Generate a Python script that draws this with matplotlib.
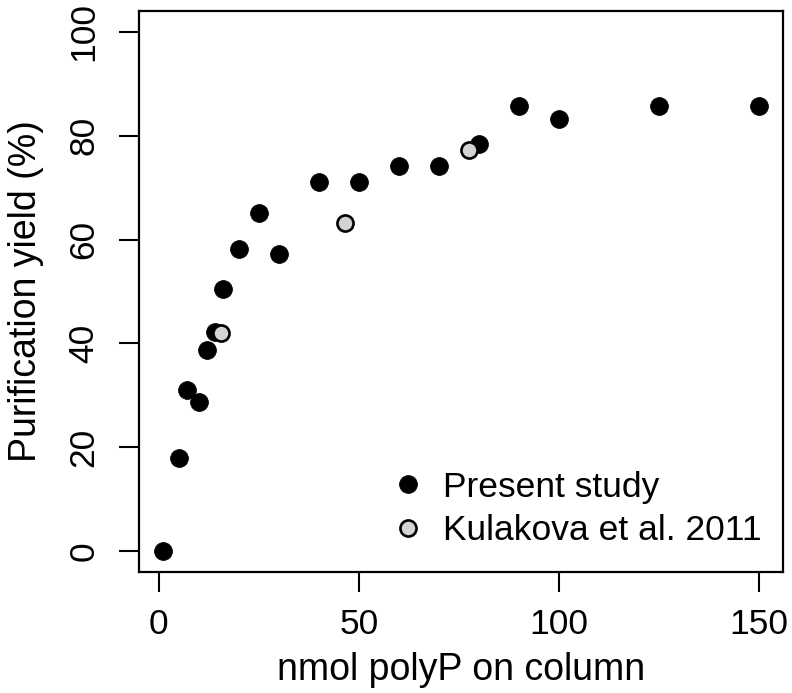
import matplotlib
matplotlib.use("Agg")
import matplotlib.pyplot as plt

# Present study
present_x = [1, 5, 7, 10, 12, 14, 16, 20, 25, 30, 40, 50, 60, 70, 80, 90, 100, 125, 150]
present_y = [0, 18, 31, 28.8, 38.8, 42.2, 50.4, 58.1, 65.2, 57.3, 71.1, 71.1, 74.1, 74.1, 78.4, 85.7, 83.2, 85.7, 85.7]

# Kulakova et al. 2011
kulakova_x = [15.5, 46.5, 77.5]
kulakova_y = [42.1, 63.1, 77.3]

x_ticks = [0, 50, 100, 150]
y_ticks = [0, 20, 40, 60, 80, 100]

plt.rcParams['font.family'] = ['Liberation Sans', 'DejaVu Sans']

fig = plt.figure(figsize=(7.92, 6.93), dpi=100)
ax = fig.add_axes([0.1755, 0.1746, 0.8131, 0.8095])

ax.plot(present_x, present_y, 'o', ms=12.8, mfc='black', mec='black', mew=0.6,
        label='Present study', zorder=3)
ax.plot(kulakova_x, kulakova_y, 'o', ms=11.6, mfc='#d3d3d3', mec='black', mew=1.9,
        label='Kulakova et al. 2011', zorder=4)

# R-style 4% padding around the data range
ax.set_xlim(-4.96, 155.96)
ax.set_ylim(-4, 104)
ax.set_xticks(x_ticks)
ax.set_yticks(y_ticks)
ax.tick_params(direction='out', length=14.5, width=1.5, labelsize=25.5)
ax.tick_params(axis='x', pad=11.5)
ax.tick_params(axis='y', pad=13.3)
plt.setp(ax.get_yticklabels(), rotation=90, va='center')
for s in ax.spines.values():
    s.set_linewidth(1.6)

ax.set_xlabel('nmol polyP on column', fontsize=27, labelpad=8)
ax.set_ylabel('Purification yield (%)', fontsize=27, labelpad=16.5)

ax.legend(loc='lower right', bbox_to_anchor=(0.967, 0.0437), frameon=False,
          fontsize=25.5, handlelength=1.0, handletextpad=0.5, borderpad=0,
          borderaxespad=0, labelspacing=0.31, numpoints=1)

fig.savefig('out.png', dpi=100)
